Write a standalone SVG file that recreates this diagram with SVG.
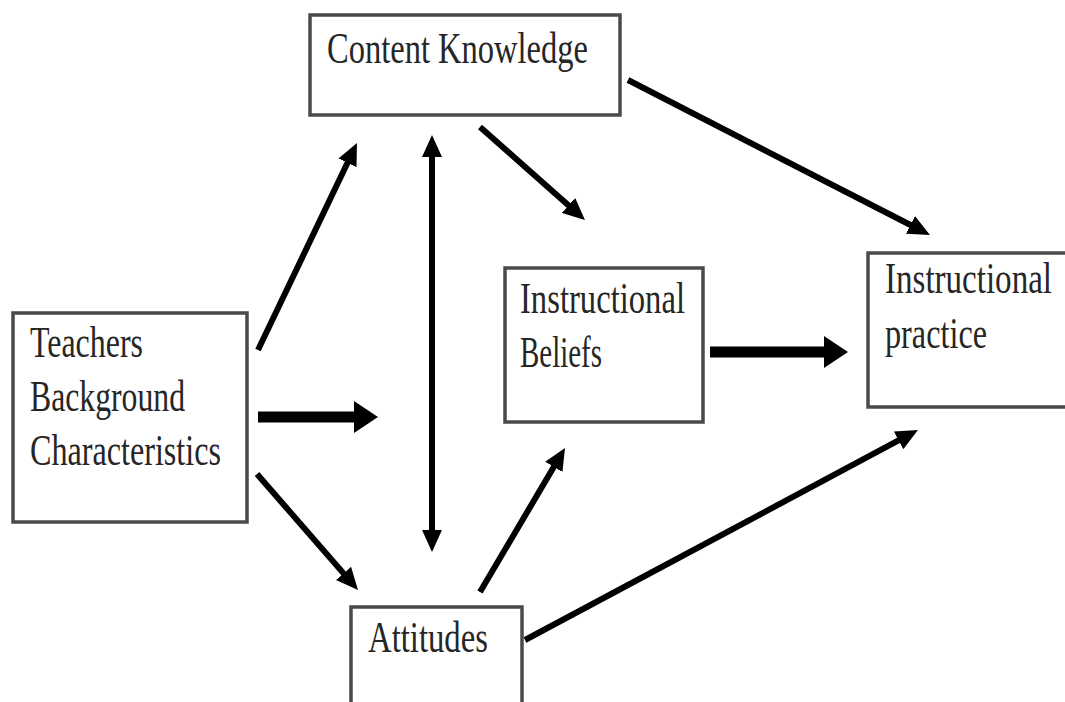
<svg xmlns="http://www.w3.org/2000/svg" width="1065" height="702" viewBox="0 0 1065 702">
<style>
.box{fill:#fff;stroke:#4a4a4a;stroke-width:3.5}
.lbl{font-family:"Liberation Serif","Times New Roman",serif;font-size:44px;fill:#262626}
.thin{stroke:#000;stroke-width:6;fill:none}
.thick{stroke:#000;stroke-width:11;fill:none}
</style>
<defs>
<marker id="ah" markerUnits="userSpaceOnUse" viewBox="0 0 22 20" markerWidth="22" markerHeight="20" refX="10" refY="10" orient="auto-start-reverse">
<path d="M0,0 L22,10 L0,20 z" fill="#000"/>
</marker>
<marker id="ahT" markerUnits="userSpaceOnUse" viewBox="0 0 24 32" markerWidth="24" markerHeight="32" refX="10" refY="16" orient="auto">
<path d="M0,0 L24,16 L0,32 z" fill="#000"/>
</marker>
</defs>
<rect width="1065" height="702" fill="#fff"/>
<g id="connectors">
<line class="thin" x1="258" y1="350" x2="351.8" y2="153.8" marker-end="url(#ah)"/>
<line class="thick" x1="258" y1="417" x2="364" y2="417" marker-end="url(#ahT)"/>
<line class="thin" x1="257" y1="474" x2="350.1" y2="580.9" marker-end="url(#ah)"/>
<line class="thin" x1="432" y1="147" x2="432" y2="540" marker-start="url(#ah)" marker-end="url(#ah)"/>
<line class="thin" x1="480" y1="127" x2="576" y2="212" marker-end="url(#ah)"/>
<line class="thin" x1="628" y1="80" x2="919.3" y2="229.5" marker-end="url(#ah)"/>
<line class="thick" x1="710" y1="352" x2="834" y2="352" marker-end="url(#ahT)"/>
<line class="thin" x1="480" y1="592" x2="558.9" y2="458.3" marker-end="url(#ah)"/>
<line class="thin" x1="525" y1="640" x2="907.4" y2="435.7" marker-end="url(#ah)"/>
</g>
<g id="content-knowledge">
<rect class="box" x="310" y="15" width="310" height="100"/>
<text class="lbl" x="327" y="63" textLength="261" lengthAdjust="spacingAndGlyphs">Content Knowledge</text>
</g>
<g id="teachers-background">
<rect class="box" x="13" y="313" width="234" height="209"/>
<text class="lbl" x="30" y="357" textLength="113" lengthAdjust="spacingAndGlyphs">Teachers</text>
<text class="lbl" x="30" y="411" textLength="155" lengthAdjust="spacingAndGlyphs">Background</text>
<text class="lbl" x="30" y="465" textLength="191" lengthAdjust="spacingAndGlyphs">Characteristics</text>
</g>
<g id="instructional-beliefs">
<rect class="box" x="505" y="268" width="198" height="154"/>
<text class="lbl" x="520" y="313" textLength="165" lengthAdjust="spacingAndGlyphs">Instructional</text>
<text class="lbl" x="520" y="367" textLength="82" lengthAdjust="spacingAndGlyphs">Beliefs</text>
</g>
<g id="instructional-practice">
<rect class="box" x="868" y="253" width="210" height="154"/>
<text class="lbl" x="885" y="293" textLength="167" lengthAdjust="spacingAndGlyphs">Instructional</text>
<text class="lbl" x="885" y="348" textLength="102" lengthAdjust="spacingAndGlyphs">practice</text>
</g>
<g id="attitudes">
<rect class="box" x="351" y="607" width="171" height="110"/>
<text class="lbl" x="368" y="652" textLength="120" lengthAdjust="spacingAndGlyphs">Attitudes</text>
</g>
</svg>
